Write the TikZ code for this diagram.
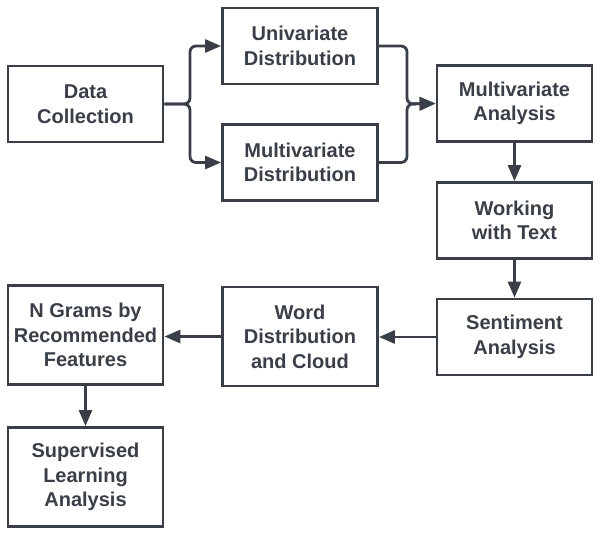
\documentclass[tikz,border=0pt]{standalone}
\usepackage{fontspec}
\setmainfont{Liberation Sans}
\usetikzlibrary{arrows.meta}
\definecolor{ink}{HTML}{3A3F47}
\begin{document}
\begin{tikzpicture}[x=1pt,y=-1pt,
  box/.style={draw=ink, line width=2.8pt, rectangle, inner sep=0pt, align=center,
    text=ink, font=\fontsize{20}{24.5}\selectfont\bfseries, minimum width=155pt},
  sbox/.style={box, minimum height=76pt},
  tbox/.style={box, minimum height=99pt},
  arr/.style={draw=ink, line width=2.8pt, -{Triangle[length=16pt,width=13pt]}}]
\useasboundingbox (0,0) rectangle (600,536);
\node[sbox] (dc) at (85.5,104) {Data\\Collection};
\node[sbox] (uni) at (300,46) {Univariate\\Distribution};
\node[sbox] (mdist) at (300,162.5) {Multivariate\\Distribution};
\node[sbox] (ma) at (514.5,103.5) {Multivariate\\Analysis};
\node[sbox] (wt) at (514.5,220.5) {Working\\with Text};
\node[sbox] (sa) at (514.5,337) {Sentiment\\Analysis};
\node[tbox] (wd) at (300,336.5) {Word\\Distribution\\and Cloud};
\node[tbox] (ng) at (85.5,335) {N Grams by\\Recommended\\Features};
\node[tbox] (sl) at (85.5,477) {Supervised\\Learning\\Analysis};
\coordinate (split) at (190,104);
\coordinate (merge) at (407,104);
\draw[arr, rounded corners=6pt] (dc.east) -- (split) |- (uni.west);
\draw[arr, rounded corners=6pt] (dc.east) -- (split) |- (mdist.west);
\draw[arr, rounded corners=6pt] (uni.east) -| (merge) -- (ma.west);
\draw[arr, rounded corners=6pt] (mdist.east) -| (merge) -- (ma.west);
\draw[arr] (ma.south) -- (wt.north);
\draw[arr] (wt.south) -- (sa.north);
\draw[arr] (sa.west) -- (sa.west -| wd.east);
\draw[arr] (wd.west) -- (wd.west -| ng.east);
\draw[arr] (ng.south) -- (sl.north);
\end{tikzpicture}
\end{document}
